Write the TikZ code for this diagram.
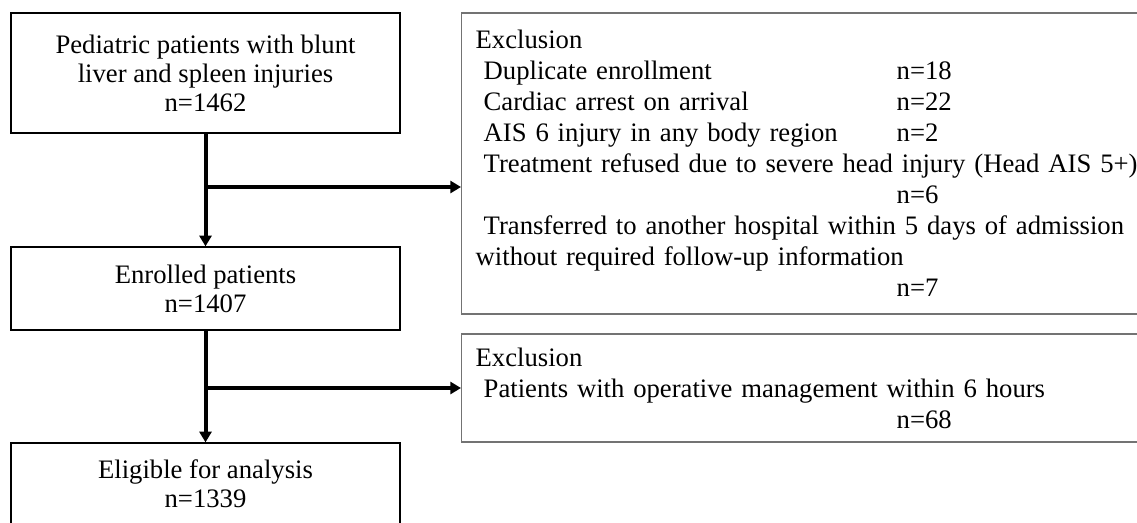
\documentclass[tikz,border=0pt]{standalone}
\usepackage{fontspec}
\setmainfont{Liberation Serif}
\usetikzlibrary{arrows.meta}
\newcommand\exrow[2]{\makebox[315.75pt][l]{\hspace*{6pt}#1}#2}
\begin{document}
\begin{tikzpicture}[x=0.75pt,y=-0.75pt,
  mainbox/.style={draw=black,line width=1pt,minimum width=291.75pt,inner sep=0pt,align=center,
    font=\fontsize{20}{21.75}\selectfont},
  exbox/.style={draw=black!55,line width=1pt,anchor=west,inner xsep=10.5pt,inner ysep=0pt,
    text width=600pt,align=left,font=\fontsize{20}{23.25}\selectfont},
  conn/.style={line width=3pt,-{Triangle[length=8pt,width=9pt]}}]
\useasboundingbox (0,0) rectangle (1137,522);
\clip (0,0) rectangle (1137,522);
\node[mainbox,minimum height=90pt] (src) at (205.5,73) {Pediatric patients with blunt\\liver and spleen injuries\\n=1462};
\node[mainbox,minimum height=62.25pt] (enr) at (205.5,288.5) {Enrolled patients\\n=1407};
\node[mainbox,minimum height=61.5pt] (elig) at (205.5,484) {Eligible for analysis\\n=1339};
\node[exbox,minimum height=225.75pt] (ex1) at (461,163.5) {Exclusion\\
\exrow{Duplicate enrollment}{n=18}\\
\exrow{Cardiac arrest on arrival}{n=22}\\
\exrow{AIS 6 injury in any body region}{n=2}\\
\hspace*{6pt}Treatment refused due to severe head injury (Head AIS 5+)\\
\exrow{}{n=6}\\
\hspace*{6pt}Transferred to another hospital within 5 days of admission\\
without required follow-up information\\
\exrow{}{n=7}};
\node[exbox,minimum height=81pt] (ex2) at (461,388) {Exclusion\\
\hspace*{6pt}Patients with operative management within 6 hours\\
\exrow{}{n=68}};
\draw[conn] (src) -- (enr);
\draw[conn] (enr) -- (elig);
\coordinate (b1) at (205.5,187);
\coordinate (b2) at (205.5,388);
\draw[conn] (b1) -- (b1 -| ex1.west);
\draw[conn] (b2) -- (b2 -| ex2.west);
\end{tikzpicture}
\end{document}
